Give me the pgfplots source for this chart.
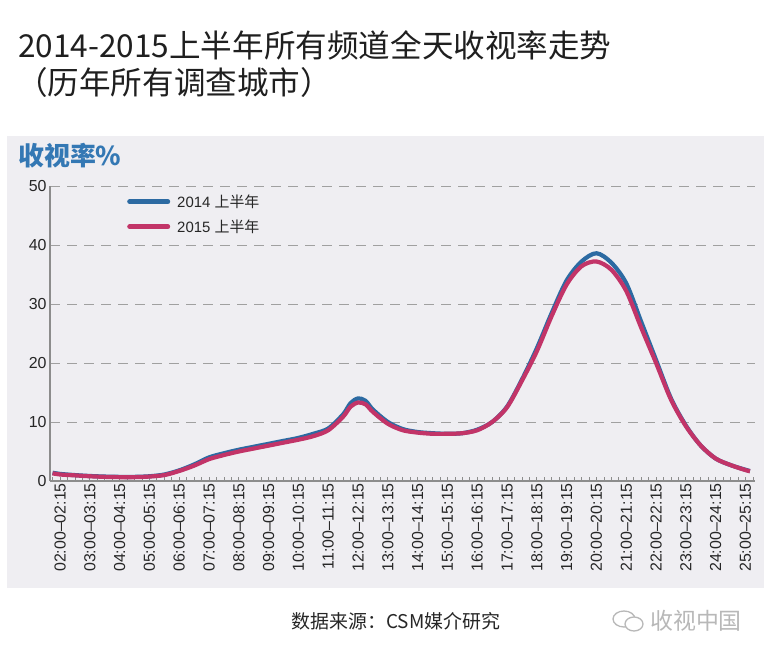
\documentclass[border=0pt]{standalone}
\usepackage{pgfplots}
\pgfplotsset{compat=1.18}
\usepackage{pgfplotstable}
\usepackage{fontspec}
\setmainfont{Liberation Sans}
\newfontfamily\cjk{Noto Sans CJK SC}
\definecolor{panel}{RGB}{239,238,242}
\definecolor{c14}{RGB}{44,106,162}
\definecolor{c15}{RGB}{194,52,104}
\definecolor{ttl}{RGB}{52,120,180}
\definecolor{gridc}{RGB}{160,160,160}

\pgfplotstableread{
x y14 y15
-0.25 1.4 1.3
0 1.2 1.1
0.5 1.0 0.95
1 0.85 0.8
1.5 0.75 0.7
2 0.7 0.65
2.5 0.7 0.65
3 0.8 0.75
3.5 1.1 1.0
4 1.8 1.7
4.5 2.8 2.6
5 4.0 3.7
5.5 4.7 4.4
6 5.3 5.0
6.5 5.8 5.5
7 6.3 6.0
7.5 6.8 6.5
8 7.3 7.0
8.5 8.0 7.6
9 8.9 8.6
9.5 11.3 10.9
9.75 13.2 12.6
10 14.0 13.3
10.25 13.6 13.0
10.5 12.1 11.7
11 10.0 9.7
11.5 8.8 8.6
12 8.3 8.2
12.5 8.1 8.0
13 8.0 8.0
13.5 8.1 8.1
14 8.7 8.6
14.5 10.0 10.0
15 12.6 12.5
15.5 17.2 17.0
16 22.5 22.0
16.5 28.5 28.0
17 34.0 33.3
17.5 37.2 36.4
18 38.6 37.2
18.5 37.0 35.8
19 33.5 32.2
19.5 27.0 26.0
20 20.5 20.0
20.5 14.0 13.8
21 9.4 9.3
21.5 6.0 6.0
22 3.8 3.8
22.5 2.7 2.7
23 1.9 1.85
23.15 1.7 1.65
}\datatable

\begin{document}
\begin{tikzpicture}[x=1bp,y=1bp]
\useasboundingbox (0,0) rectangle (772,659);
\fill[white] (0,0) rectangle (772,659);
\fill[panel] (7,71) rectangle (764,523);
\node[anchor=base west,inner sep=0pt,font=\cjk\fontsize{31.7}{36}\selectfont,text=black!88] at (18,601) {2014-2015上半年所有频道全天收视率走势};
\node[anchor=base west,inner sep=0pt,font=\cjk\fontsize{31.7}{36}\selectfont,text=black!88] at (16,564) {（历年所有调查城市）};
\node[anchor=base west,inner sep=0pt,font=\cjk\bfseries\fontsize{26}{29}\selectfont,text=ttl] at (18,493) {收视率\%};
\node[anchor=base,inner sep=0pt,font=\cjk\fontsize{19}{21}\selectfont,text=black!85] at (396,30) {数据来源：CSM媒介研究};
\node[anchor=base west,inner sep=0pt,font=\cjk\fontsize{23}{26}\selectfont,text=black!28] at (650,29) {收视中国};
\draw[black!28,line width=1.3bp] (624,40) ellipse (11 and 8);
\draw[black!28,line width=1.3bp,fill=white] (634,35) ellipse (9 and 7);
\begin{axis}[
  at={(50bp,178bp)}, anchor=south west,
  scale only axis, width=705bp, height=295bp,
  xmin=-0.336, xmax=23.32, ymin=0, ymax=50,
  axis x line*=bottom, axis y line*=left,
  axis line style={draw=black!45, line width=1.2bp},
  xtick={0,...,23},
  minor xtick={-0.25,0,...,23.25},
  xticklabels={02:00--02:15,03:00--03:15,04:00--04:15,05:00--05:15,06:00--06:15,07:00--07:15,08:00--08:15,09:00--09:15,10:00--10:15,11:00--11:15,12:00--12:15,13:00--13:15,14:00--14:15,15:00--15:15,16:00--16:15,17:00--17:15,18:00--18:15,19:00--19:15,20:00--20:15,21:00--21:15,22:00--22:15,23:00--23:15,24:00--24:15,25:00--25:15},
  xticklabel style={rotate=90, anchor=east, font=\fontsize{16}{18}\selectfont, text=black!85, inner sep=2bp},
  tick align=inside,
  major tick length=4bp, minor tick length=4bp,
  x tick style={draw=black!45, line width=0.8bp},
  ytick={0,10,...,50},
  y tick style={draw=none},
  yticklabel style={font=\fontsize{16}{18}\selectfont, text=black!85},
  /pgf/number format/assume math mode=true,
  ymajorgrids,
  y grid style={draw=gridc, line width=0.9bp, dash pattern=on 10bp off 7bp},
  legend style={at={(rel axis cs:0.105,0.985)}, anchor=north west, draw=none, fill=none,
    font=\fontsize{15}{17}\selectfont, row sep=7bp, column sep=5bp, text=black!85},
  legend cell align=left,
  legend image code/.code={\draw[#1, line width=5bp, line cap=round] (0bp,0bp) -- (38bp,0bp);},
]
\addplot[c14, line width=4.2bp, smooth, tension=0.5] table[x=x,y=y14] {\datatable};
\addlegendentry{2014 {\cjk 上半年}}
\addplot[c15, line width=4.2bp, smooth, tension=0.5] table[x=x,y=y15] {\datatable};
\addlegendentry{2015 {\cjk 上半年}}
\end{axis}
\end{tikzpicture}
\end{document}
